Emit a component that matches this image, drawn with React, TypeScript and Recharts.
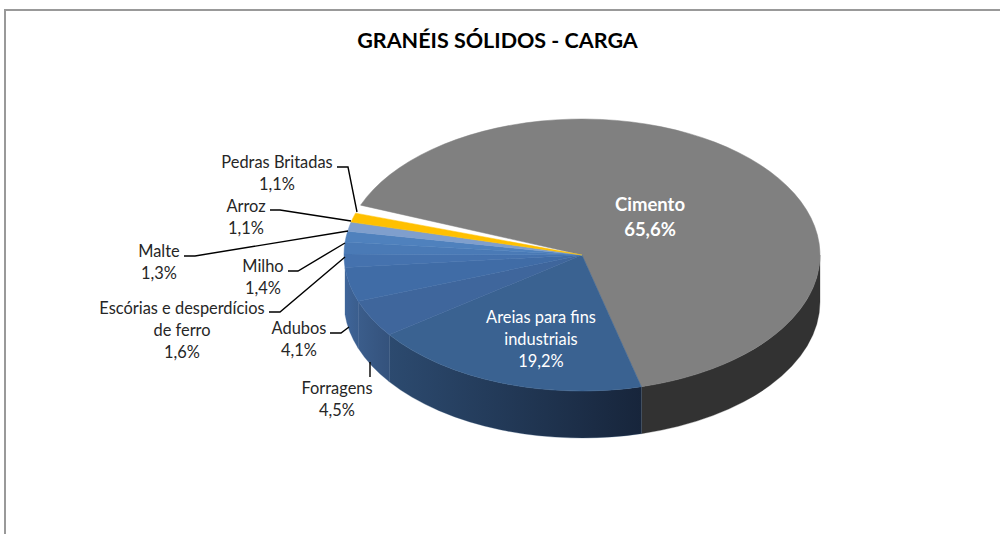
import React from 'react';
import { PieChart, Pie, Cell } from 'recharts';

const categories = ['Cimento', 'Areias para fins\nindustriais', 'Forragens', 'Adubos', 'Escórias e desperdícios\nde ferro', 'Milho', 'Malte', 'Arroz', 'Pedras Britadas', ''];
const shares = [65.6, 19.2, 4.5, 4.1, 1.6, 1.4, 1.3, 1.1, 1.1, 1.0];
const topColors = ['#808080', '#3a6291', '#3f669c', '#406ca6', '#4572ae', '#4a7ab6', '#4f81bd', '#7f9fcd', '#ffc000', 'none'];
const wallColors = [['#323232', '#323232'], ['#2c4a6f', '#17253b'], ['#3b5d8b', '#34527c'], ['#3f659a', '#3b5e8d']];

const data = categories.map((name, i) => ({ name, value: shares[i] }));

const CX = 582;
const CY = 255;
const RX = 238;
const RY = 136;
const DEPTH = 47;
const START = 158.5;

// where each label sits and how its leader runs
const labelLayout: { x: number; y: number; color?: string; bold?: boolean; line?: number[][] }[] = [
    { x: 650, y: 211, color: '#fff', bold: true },
    { x: 541, y: 323, color: '#fff' },
    { x: 337, y: 394, line: [[370, 377], [370, 362]] },
    { x: 299, y: 334, line: [[330, 333], [341, 333], [349, 327]] },
    { x: 182, y: 314, line: [[269, 312], [280, 312], [345, 257]] },
    { x: 263, y: 272, line: [[288, 271], [298, 271], [345, 243]] },
    { x: 159, y: 257, line: [[184, 256], [195, 256], [348, 231]] },
    { x: 246, y: 212, line: [[270, 210], [280, 210], [351, 221]] },
    { x: 277, y: 168, line: [[337, 167], [348, 167], [357, 212]] },
];

const pt = (a: number, dy = 0) => {
    const r = (a * Math.PI) / 180;
    return `${CX + RX * Math.cos(r)} ${CY - RY * Math.sin(r) + dy}`;
};

const TopSector = (props: any) => {
    const { startAngle, endAngle, fill } = props;
    if (fill === 'none') return null;
    const large = Math.abs(startAngle - endAngle) > 180 ? 1 : 0;
    const d = `M${CX} ${CY} L${pt(startAngle)} A${RX} ${RY} 0 ${large} 1 ${pt(endAngle)} Z`;
    return <path d={d} fill={fill} stroke={fill} strokeWidth={0.5} />;
};

const WallSector = (props: any) => {
    const { startAngle, endAngle, index } = props;
    const a = Math.min(startAngle, 0);
    const b = Math.max(endAngle, -180);
    if (a <= b || !wallColors[index]) return null;
    const d = `M${pt(a)} A${RX} ${RY} 0 0 1 ${pt(b)} L${pt(b, DEPTH)} A${RX} ${RY} 0 0 0 ${pt(a, DEPTH)} Z`;
    // the blue walls go darker towards the right
    const [left, right] = wallColors[index];
    return (
        <g>
            <defs>
                <linearGradient id={`wall${index}`} x1="0" y1="0" x2="1" y2="0">
                    <stop offset="0" stopColor={left} />
                    <stop offset="1" stopColor={right} />
                </linearGradient>
            </defs>
            <path d={d} fill={`url(#wall${index})`} stroke={left} strokeWidth={0.3} />
        </g>
    );
};

const renderLabel = (props: any) => {
    const { index } = props;
    const spot = labelLayout[index];
    if (!spot) return null;
    const lines = [...categories[index].split('\n'), `${shares[index].toFixed(1).replace('.', ',')}%`];
    return (
        <g>
            {spot.line && (
                <polyline points={spot.line.map(p => p.join(',')).join(' ')} fill="none" stroke="#000" strokeWidth={1.4} />
            )}
            <text
                x={spot.x}
                y={spot.y}
                textAnchor="middle"
                fontFamily="Lato"
                fontSize={index === 0 ? 18.5 : 16.4}
                fontWeight={spot.bold ? 700 : 400}
                fill={spot.color ?? '#262626'}
            >
                {lines.map((l, i) => (
                    <tspan key={i} x={spot.x} dy={i === 0 ? 0 : index === 0 ? 25 : 22.2}>{l}</tspan>
                ))}
            </text>
        </g>
    );
};

export default function App() {
    return (
        <div style={{ position: 'absolute', left: 0, top: 0, width: 1000, height: 534, background: '#fff', overflow: 'hidden' }}>
            <div style={{ position: 'absolute', left: 4, top: 9, width: 996, height: 2, background: '#999' }} />
            <div style={{ position: 'absolute', left: 4, top: 9, width: 2, height: 525, background: '#999' }} />
            <div style={{ position: 'absolute', left: 0, width: 995, top: 27, textAlign: 'center', fontFamily: 'Lato', fontWeight: 700, fontSize: 21.5, color: '#000' }}>
                GRANÉIS SÓLIDOS - CARGA
            </div>
            <div style={{ position: 'absolute', left: 0, top: 0 }}>
                <PieChart width={1000} height={534} margin={{ top: 0, right: 0, bottom: 0, left: 0 }}>
                    <Pie
                        data={data}
                        dataKey="value"
                        cx={CX}
                        cy={CY}
                        outerRadius={RX}
                        startAngle={START}
                        endAngle={START - 360}
                        shape={WallSector}
                        stroke="none"
                        isAnimationActive={false}
                    />
                    <Pie
                        data={data}
                        dataKey="value"
                        cx={CX}
                        cy={CY}
                        outerRadius={RX}
                        startAngle={START}
                        endAngle={START - 360}
                        shape={TopSector}
                        stroke="none"
                        label={renderLabel}
                        labelLine={false}
                        isAnimationActive={false}
                    >
                        {topColors.map((c, i) => <Cell key={i} fill={c} />)}
                    </Pie>
                </PieChart>
            </div>
        </div>
    );
}
